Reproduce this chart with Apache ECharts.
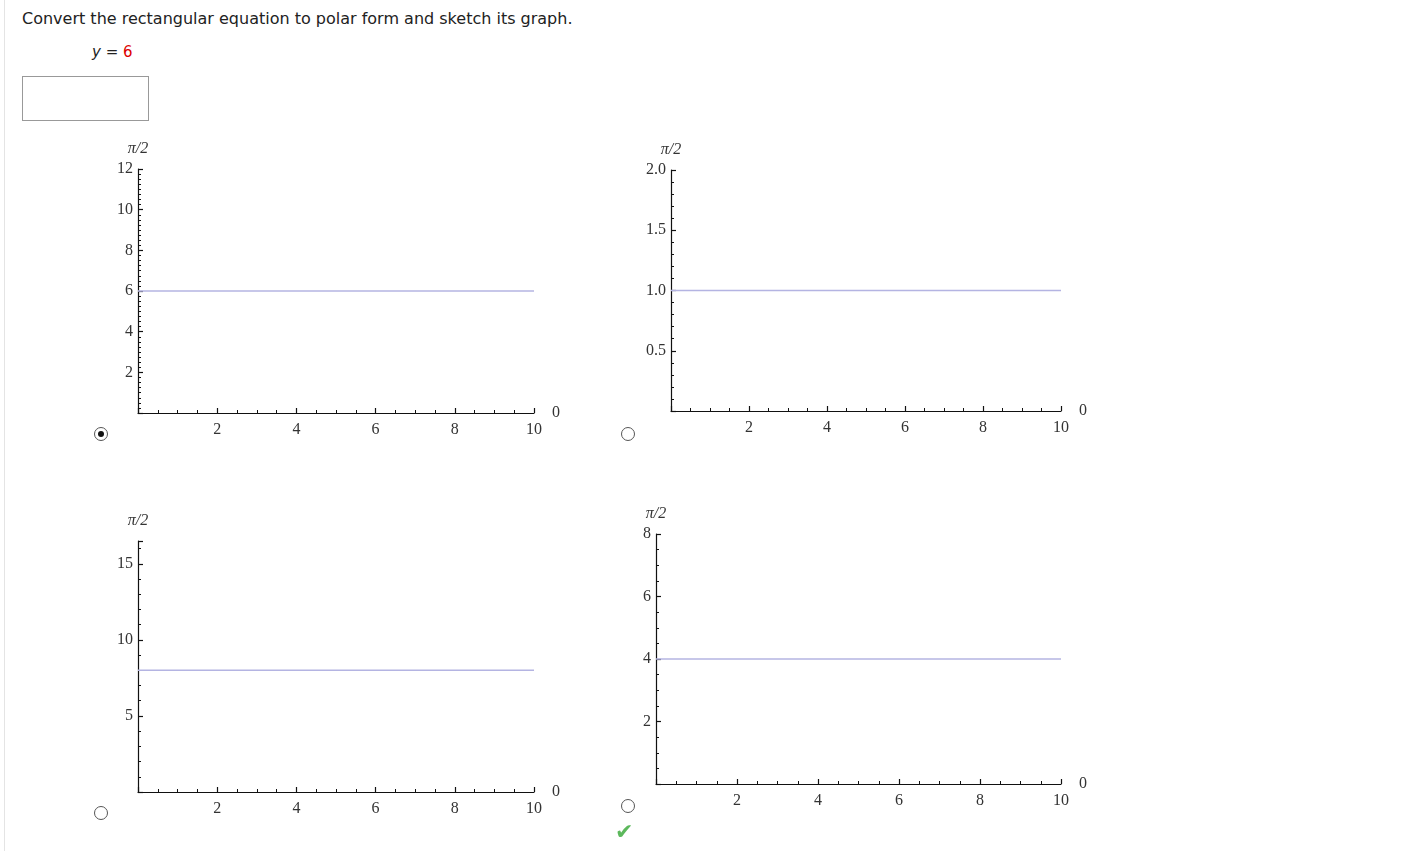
<!DOCTYPE html>
<html><head><meta charset="utf-8">
<script src="https://cdn.jsdelivr.net/npm/echarts@6/dist/echarts.min.js"></script>
<style>
body{margin:0;background:#fff;font-family:"DejaVu Sans",sans-serif;}
#c{position:absolute;left:0;top:0;width:1411px;height:851px;}
.t{position:absolute;color:#222;font-size:16px;}
.r{position:absolute;width:12px;height:12px;border:1px solid #555;border-radius:50%;background:#fff;}
.r.on::after{content:"";position:absolute;left:3px;top:3px;width:6px;height:6px;border-radius:50%;background:#111;}
</style></head><body>
<div style="position:absolute;left:4px;top:0;width:1px;height:851px;background:#e4e4e4"></div>
<div class="t" style="left:22px;top:9px">Convert the rectangular equation to polar form and sketch its graph.</div>
<div class="t" style="left:92px;top:43px;font-size:15px"><i>y</i> = <span style="color:#d00">6</span></div>
<div style="position:absolute;left:22px;top:76px;width:125px;height:43px;border:1px solid #999"></div>
<div id="c"></div>
<div class="r on" style="left:94px;top:427px"></div>
<div class="r" style="left:621px;top:427px"></div>
<div class="r" style="left:94px;top:806px"></div>
<div class="r" style="left:621px;top:799px"></div>
<div style="position:absolute;left:615px;top:819px;color:#5cb85c;font-size:22px;font-weight:bold">&#10004;</div>
<script>
const xRange=[0,10];
const yValues=[6,1,8,4];
const yMax=[12,2,16.5,8];
const yInterval=[2,0.5,5,2];
const yMinor=[8,5,5,4];
const grids=[
 {left:138,right:877,top:169,bottom:438},
 {left:671,right:350,top:170,bottom:440},
 {left:138,right:877,top:541,bottom:59},
 {left:656,right:350,top:534,bottom:67}];
const font="'Liberation Serif','DejaVu Serif',serif";
const ax={lineStyle:{color:'#111',width:1.2}};
const chart=echarts.init(document.getElementById('c'));
const opt={animation:false,grid:[],xAxis:[],yAxis:[],series:[]};
grids.forEach((g,i)=>{
 opt.grid.push(g);
 opt.xAxis.push({type:'value',gridIndex:i,min:xRange[0],max:xRange[1],interval:2,
  name:'0',nameGap:18,nameTextStyle:{fontFamily:font,fontSize:16,color:'#333',verticalAlign:'middle'},
  axisLine:ax,axisTick:{inside:true,length:5,lineStyle:{color:'#111',width:1.2}},
  minorTick:{show:true,splitNumber:4,length:3,lineStyle:{color:'#111'}},
  splitLine:{show:false},axisLabel:{showMinLabel:false,fontFamily:font,fontSize:16,color:'#333',margin:9}});
 opt.yAxis.push({type:'value',gridIndex:i,min:0,max:yMax[i],interval:yInterval[i],
  name:'π/2',nameGap:12,nameTextStyle:{fontFamily:font,fontSize:16,color:'#333',fontStyle:'italic'},
  axisLine:ax,axisTick:{inside:true,length:5,lineStyle:{color:'#111',width:1.2}},
  minorTick:{show:true,splitNumber:yMinor[i],length:3,lineStyle:{color:'#111'}},
  splitLine:{show:false},axisLabel:{showMinLabel:false,showMaxLabel:i!==2,fontFamily:font,fontSize:16,color:'#333',margin:5,
   formatter:v=>i===1?v.toFixed(1):String(v)}});
 opt.series.push({type:'line',xAxisIndex:i,yAxisIndex:i,symbol:'none',
  lineStyle:{color:'#b4b4e2',width:1.5},data:xRange.map(x=>[x,yValues[i]])});
});
chart.setOption(opt);
</script></body></html>
